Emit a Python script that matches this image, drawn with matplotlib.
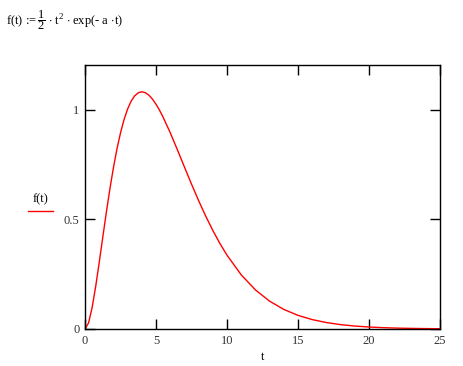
import numpy as np
import matplotlib.pyplot as plt
from matplotlib.lines import Line2D

plt.rcParams['font.family'] = ['Liberation Serif', 'DejaVu Serif']
plt.rcParams['mathtext.fontset'] = 'custom'
plt.rcParams['mathtext.rm'] = 'Liberation Serif'
plt.rcParams['mathtext.it'] = 'Liberation Serif'

# values
t_vals = [0, 0.25, 0.5, 0.75, 1, 1.25, 1.5, 1.75, 2, 2.25, 2.5, 2.75, 3, 3.25, 3.5, 3.75,
          4, 4.25, 4.5, 4.75, 5, 5.25, 5.5, 6, 6.5, 7, 7.5,
          8, 8.5, 9, 9.5, 10, 11, 12, 13, 14, 15, 16, 17, 18, 19, 20, 21, 22, 23, 24, 25]
f_vals = [0, 0.0276, 0.0974, 0.1933, 0.3033, 0.4182, 0.5314, 0.6383, 0.7358, 0.8218,
          0.8953, 0.9560, 1.0041, 1.0400, 1.0644, 1.0782,
          1.0827, 1.0786, 1.0671, 1.0493, 1.0260, 0.9983, 0.9669, 0.8962, 0.8191, 0.7398, 0.6614,
          0.5861, 0.5153, 0.4499, 0.3904, 0.3369, 0.2473, 0.1785, 0.1270, 0.0894, 0.0622,
          0.0429, 0.0294, 0.0200, 0.0135, 0.0091, 0.0061, 0.0040, 0.0027, 0.0018, 0.0012]
x_ticks = [0, 5, 10, 15, 20, 25]
y_ticks = [0, 0.5, 1]
y_tick_labels = ['0', '0.5', '1']

fig = plt.figure(figsize=(4.63, 3.66), dpi=100)
ax = fig.add_axes([0.1836, 0.1011, 0.7667, 0.7213])

ax.plot(t_vals, f_vals, color='red', lw=1.0)
ax.set_xlim(0, 25)
ax.set_ylim(0, 1.205)
ax.set_xticks(x_ticks)
ax.set_yticks(y_ticks)
ax.set_yticklabels(y_tick_labels)
ax.tick_params(direction='in', length=7, width=1, top=True, right=True,
               labelsize=9, labelcolor='#333333', pad=4)
for s in ax.spines.values():
    s.set_linewidth(1)
ax.set_xlabel('t', fontsize=9, labelpad=3)

# formula at the top left
fig.text(0.012, 0.945,
         r'f(t) :=$\,\dfrac{1}{2}\,\cdot$t$^{\,2}\,\cdot$exp(- a $\cdot$t)',
         fontsize=9, va='center', ha='left')

# y label with legend line
fig.text(0.087, 0.455, 'f(t)', fontsize=9, ha='center', va='center')
fig.add_artist(Line2D([0.060, 0.115], [0.424, 0.424], color='red', lw=1,
                      transform=fig.transFigure))

fig.savefig('out.png', dpi=100)
